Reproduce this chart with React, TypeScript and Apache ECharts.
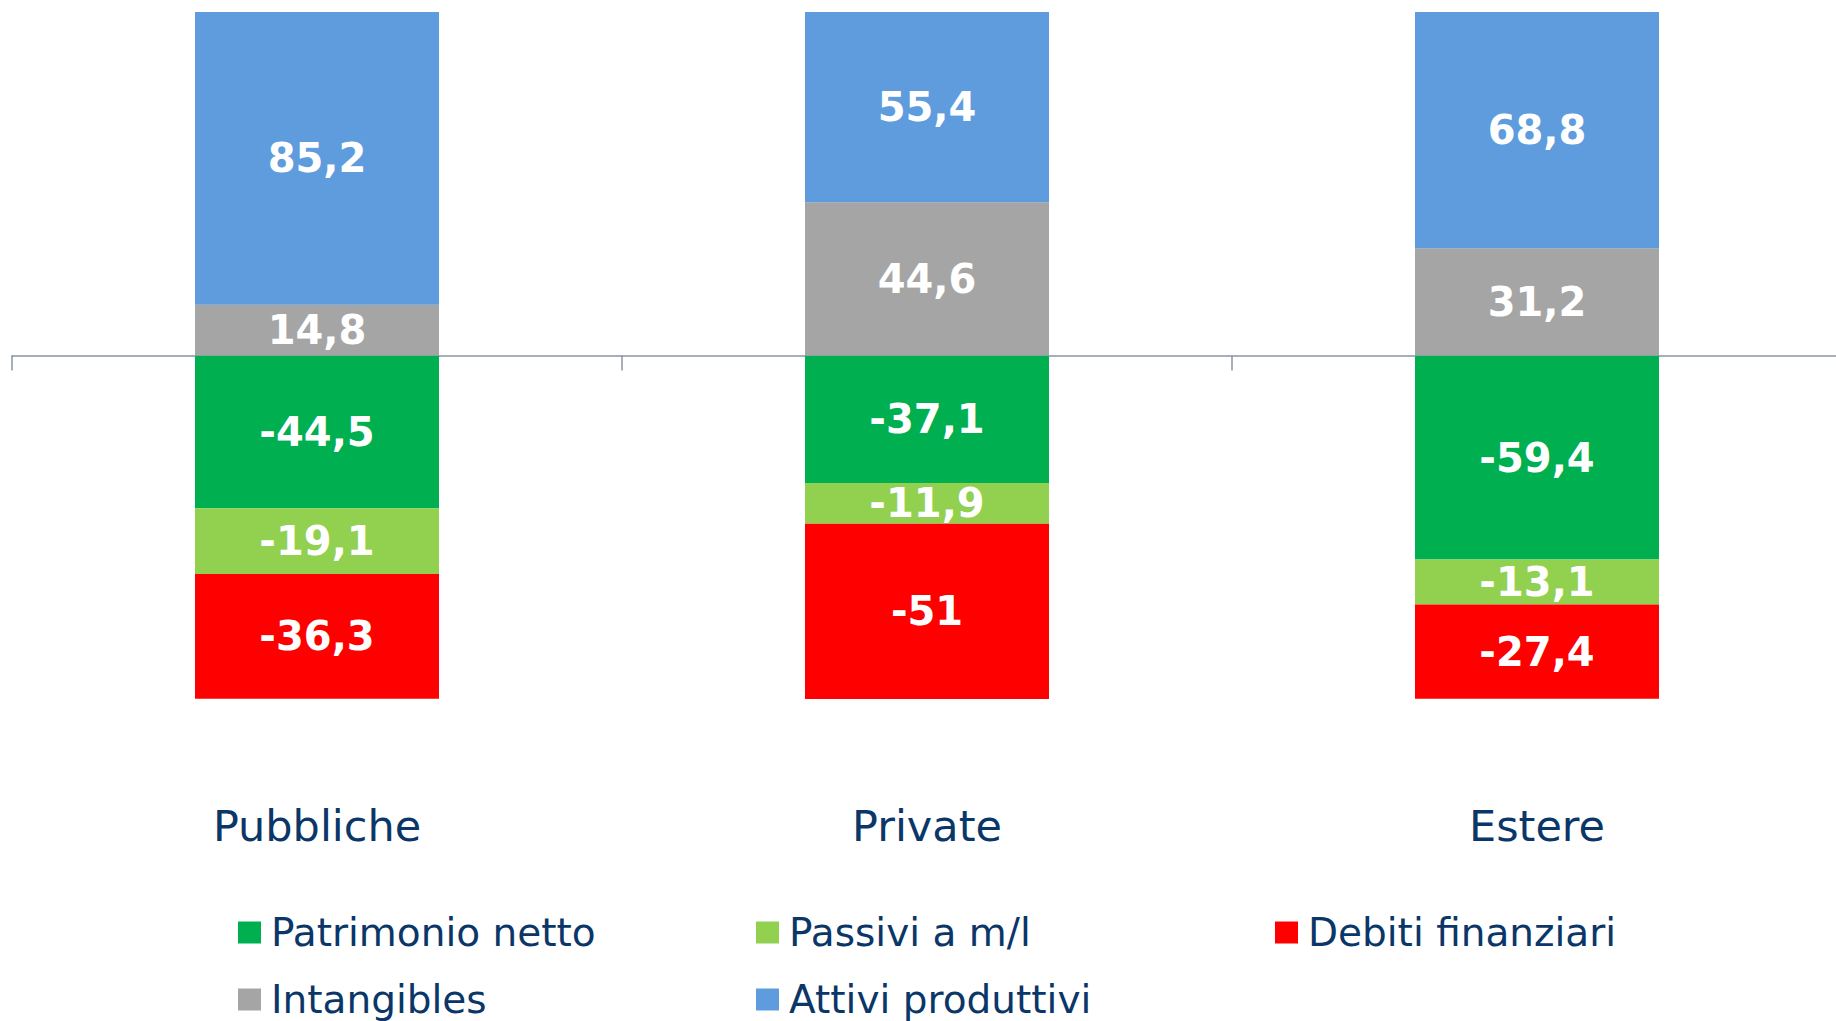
import React, { useEffect, useRef } from "react";
import * as echarts from "echarts";

const categories = ["Pubbliche", "Private", "Estere"];
const patrimonioNetto = [-44.5, -37.1, -59.4];
const passiviML = [-19.1, -11.9, -13.1];
const debitiFinanziari = [-36.3, -51, -27.4];
const intangibles = [14.8, 44.6, 31.2];
const attiviProduttivi = [85.2, 55.4, 68.8];

const seriesNames = [
  "Patrimonio netto",
  "Passivi a m/l",
  "Debiti finanziari",
  "Intangibles",
  "Attivi produttivi",
];
const seriesData = [patrimonioNetto, passiviML, debitiFinanziari, intangibles, attiviProduttivi];
const seriesColors = ["#00B050", "#92D050", "#FF0000", "#A5A5A5", "#5E9CDD"];

const FONT = "DejaVu Sans";
const NAVY = "#0B3668";

const legendPos = [
  { left: 238, top: 913 },
  { left: 756, top: 913 },
  { left: 1275, top: 913 },
  { left: 238, top: 980 },
  { left: 756, top: 980 },
];

export default function App() {
  const ref = useRef<HTMLDivElement>(null);
  useEffect(() => {
    if (!ref.current) return;
    const chart = echarts.init(ref.current, undefined, { renderer: "svg" });
    const option: any = {
      animation: false,
      backgroundColor: "#ffffff",
      grid: { left: 12, right: 0, top: 12, bottom: 322, containLabel: false },
      xAxis: [
        {
          type: "category",
          data: categories,
          axisLine: { onZero: true, lineStyle: { color: "#8C93A6", width: 1.5 } },
          axisTick: { show: true, length: 15, interval: 0, lineStyle: { color: "#8C93A6", width: 1.5 } },
          axisLabel: { show: false },
          splitLine: { show: false },
        },
        {
          type: "category",
          data: categories,
          position: "bottom",
          axisLine: { show: false, onZero: false },
          axisTick: { show: false },
          axisLabel: {
            show: true,
            interval: 0,
            margin: 105,
            fontFamily: FONT,
            fontSize: 43,
            color: NAVY,
          },
          splitLine: { show: false },
        },
      ],
      yAxis: {
        type: "value",
        min: -100,
        max: 100,
        show: false,
        splitLine: { show: false },
      },
      legend: seriesNames.map((name, i) => ({
        data: [name],
        left: legendPos[i].left,
        top: legendPos[i].top,
        padding: 0,
        icon: "rect",
        itemWidth: 23,
        itemHeight: 22,
        selectedMode: false,
        textStyle: {
          fontFamily: FONT,
          fontSize: 39,
          lineHeight: 39,
          color: NAVY,
          padding: [0, 0, 0, 5],
        },
      })),
      series: seriesNames.map((name, i) => ({
        name,
        type: "bar",
        stack: "total",
        xAxisIndex: 0,
        barWidth: 244,
        data: seriesData[i],
        itemStyle: { color: seriesColors[i] },
        label: {
          show: true,
          position: "inside",
          color: "#ffffff",
          fontFamily: FONT,
          fontWeight: "bold",
          fontSize: 40,
          formatter: (p: any) => String(p.value).replace(".", ","),
        },
      })),
    };
    chart.setOption(option);
    return () => chart.dispose();
  }, []);
  return (
    <div style={{ position: "fixed", left: 0, top: 0, width: 1836, height: 1021, overflow: "hidden", background: "#fff" }}>
      <div ref={ref} style={{ width: 1842, height: 1021 }} />
    </div>
  );
}
